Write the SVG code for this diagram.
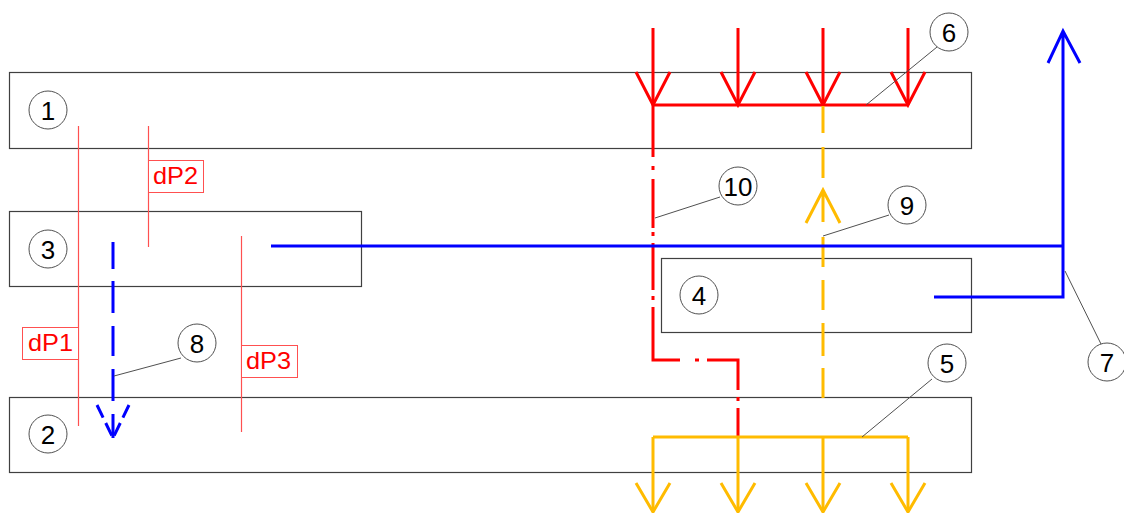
<svg xmlns="http://www.w3.org/2000/svg" width="1124" height="513" viewBox="0 0 1124 513">
<style>
.box{fill:none;stroke:#404040;stroke-width:1.2}
.circ{fill:#fff;stroke:#505050;stroke-width:1}
.num{font-family:"Liberation Sans",Arial,sans-serif;font-size:26px;fill:#000;text-anchor:middle}
.lead{fill:none;stroke:#505050;stroke-width:1}
.dp{fill:none;stroke:#ff5050;stroke-width:1.2}
.dpbox{fill:#fff;stroke:#ff5050;stroke-width:1}
.dptxt{font-family:"Liberation Sans",Arial,sans-serif;font-size:24px;fill:#ff0000}
.red{fill:none;stroke:#ff0000;stroke-width:3}
.blue{fill:none;stroke:#0000ff;stroke-width:3}
.yel{fill:none;stroke:#ffbb00;stroke-width:3}
</style>
<rect width="1124" height="513" fill="#fff"/>
<g id="node-1"><rect class="box" x="9.5" y="72.5" width="962" height="76"/></g>
<g id="node-3"><rect class="box" x="9.5" y="211.5" width="352" height="75"/></g>
<g id="node-2"><rect class="box" x="9.5" y="397.5" width="962" height="75"/></g>
<g id="node-4"><rect class="box" x="661.5" y="258.5" width="310" height="74"/></g>
<g id="connectors">
<line class="dp" x1="78.5" y1="126" x2="78.5" y2="426"/>
<line class="dp" x1="148.5" y1="126" x2="148.5" y2="247"/>
<line class="dp" x1="241.5" y1="236" x2="241.5" y2="432"/>
<path class="red" d="M653 28V105M738 28V105M823 28V105M908 28V105M653 105H908"/>
<path class="red" d="M636 72L653 105L670 72M721 72L738 105L755 72M806 72L823 105L840 72M891 72L908 105L925 72"/>
<path class="red" d="M653 105V157M653 166V170M653 179V228M653 232V236M653 243V290M653 296V300M653 307V360H680M695 360H699M707 360H738V390M738 397V401M738 408V437"/>
<path class="yel" d="M823 106V133M823 147V178M823 191V222M806 223L823 190L840 223M823 237V267M823 280V310M823 323V356M823 368V398"/>
<path class="yel" d="M653 437H908M653 437V512M738 437V512M823 437V512M908 437V512"/>
<path class="yel" d="M636 483L653 512L670 483M721 483L738 512L755 483M806 483L823 512L840 483M891 483L908 512L925 483"/>
<path class="blue" d="M271 246H1063M1063 31V297H934M1048 63L1063 31L1080 63"/>
<path class="blue" d="M113 242V269M113 281V313M113 326V356M113 369V401M113 414V438"/>
<path class="blue" stroke-dasharray="14 6" d="M97 405L113 438M129 405L113 438"/>
<line class="lead" x1="866" y1="105" x2="937" y2="47"/>
<line class="lead" x1="655" y1="218" x2="720" y2="197"/>
<line class="lead" x1="823" y1="236" x2="889" y2="215"/>
<line class="lead" x1="862" y1="437" x2="932" y2="379"/>
<line class="lead" x1="1065" y1="271" x2="1101" y2="344"/>
<line class="lead" x1="114" y1="376" x2="181" y2="358"/>
</g>
<g id="label-dP1"><rect class="dpbox" x="22.5" y="327.5" width="56" height="32"/><text class="dptxt" x="28" y="351" textLength="45" lengthAdjust="spacingAndGlyphs">dP1</text></g>
<g id="label-dP2"><rect class="dpbox" x="148.5" y="160.5" width="55" height="32"/><text class="dptxt" x="153" y="184" textLength="45" lengthAdjust="spacingAndGlyphs">dP2</text></g>
<g id="label-dP3"><rect class="dpbox" x="241.5" y="345.5" width="56" height="32"/><text class="dptxt" x="246" y="369" textLength="45" lengthAdjust="spacingAndGlyphs">dP3</text></g>
<g id="tag-1"><circle class="circ" cx="48" cy="110" r="19"/><text class="num" x="48" y="119.5">1</text></g>
<g id="tag-3"><circle class="circ" cx="48" cy="249" r="19"/><text class="num" x="48" y="258.5">3</text></g>
<g id="tag-2"><circle class="circ" cx="48" cy="434" r="19"/><text class="num" x="48" y="443.5">2</text></g>
<g id="tag-4"><circle class="circ" cx="699" cy="295" r="19"/><text class="num" x="699" y="304.5">4</text></g>
<g id="tag-5"><circle class="circ" cx="947" cy="363" r="19"/><text class="num" x="947" y="372.5">5</text></g>
<g id="tag-6"><circle class="circ" cx="949" cy="32" r="19"/><text class="num" x="949" y="41.5">6</text></g>
<g id="tag-7"><circle class="circ" cx="1107" cy="362" r="19"/><text class="num" x="1107" y="371.5">7</text></g>
<g id="tag-8"><circle class="circ" cx="197" cy="343" r="19"/><text class="num" x="197" y="352.5">8</text></g>
<g id="tag-9"><circle class="circ" cx="907" cy="205" r="19"/><text class="num" x="907" y="214.5">9</text></g>
<g id="tag-10"><circle class="circ" cx="738" cy="186" r="19"/><text class="num" x="738" y="195.5">10</text></g>
</svg>
